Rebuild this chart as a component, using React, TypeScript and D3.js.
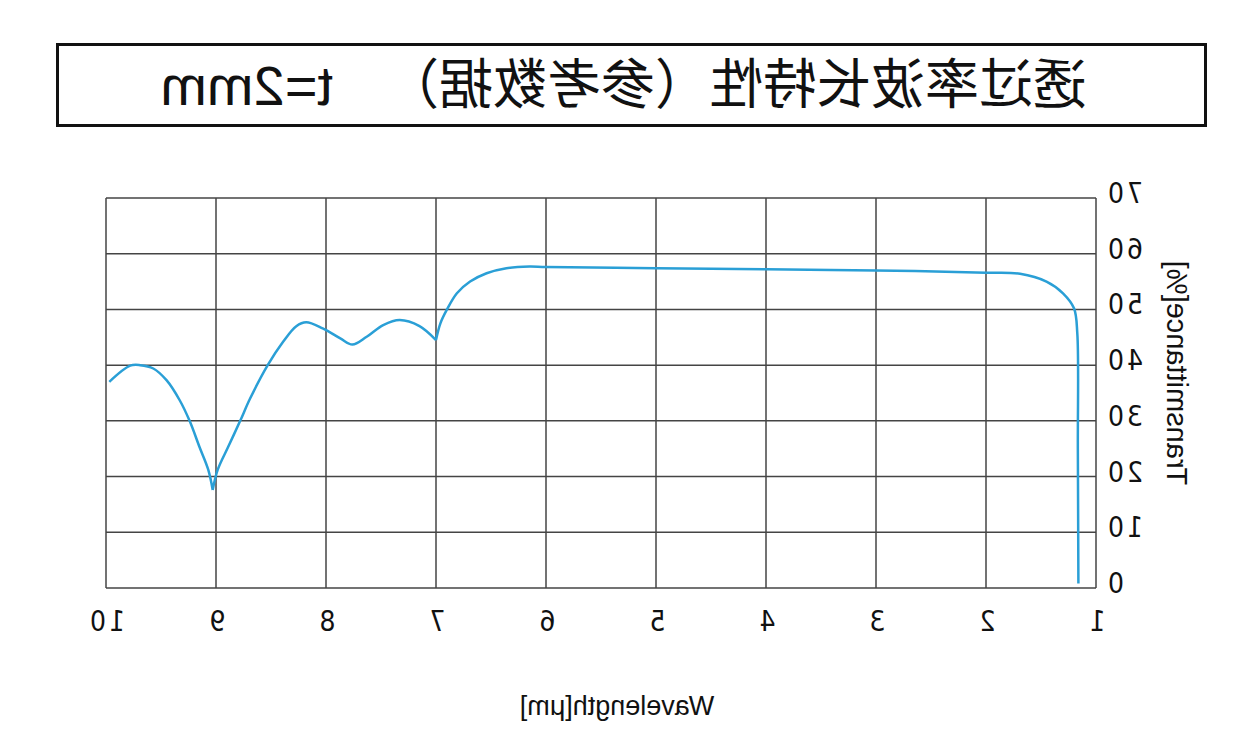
import React, { useEffect, useRef } from "react";
import * as d3 from "d3";

// wavelength [um] vs transmittance [%]
const wavelength = [
  1.16, 1.165, 1.17, 1.2, 1.3, 1.45, 1.69, 2.0, 3.0, 4.0, 5.0, 6.0, 6.15, 6.36,
  6.54, 6.69, 6.81, 6.9, 6.96, 7.0, 7.15, 7.33, 7.48, 7.63, 7.76, 7.87, 8.03,
  8.18, 8.27, 8.39, 8.53, 8.69, 8.78, 8.89, 8.985, 9.03, 9.07, 9.15, 9.24, 9.33,
  9.45, 9.57, 9.69, 9.78, 9.97,
];
const transmittance = [
  0.8, 25, 45.7, 50.2, 52.9, 55.0, 56.4, 56.6, 57.0, 57.2, 57.4, 57.6, 57.7,
  57.4, 56.5, 55.0, 52.9, 50.0, 47.5, 44.5, 47.0, 48.1, 47.2, 45.1, 43.7, 44.8,
  46.6, 47.7, 47.0, 44.2, 40.0, 34.0, 30.0, 25.3, 21.2, 17.6, 21.2, 25.3, 30.0,
  33.7, 37.3, 39.4, 40.0, 39.9, 37.0,
];
// sharp absorption dips where the curve has a corner
const cusps = [7.0, 9.03];
const xTicks = [1, 2, 3, 4, 5, 6, 7, 8, 9, 10];
const yTicks = [0, 10, 20, 30, 40, 50, 60, 70];

const titleText = "透过率波长特性（参考数据）";
const titleSuffix = "t=2mm";
const xTitle = "Wavelength[μm]";
const yTitle = "Transmittance[%]";

const W = 1258;
const H = 747;
const numFont = "'Liberation Sans Narrow', 'DejaVu Sans Condensed', 'Liberation Sans', sans-serif";
const latinFont = "'Liberation Sans', Arial, sans-serif";

const App = () => {
  const gRef = useRef(null);

  useEffect(() => {
    const g = d3.select(gRef.current);
    g.selectAll("*").remove();

    const x = d3.scaleLinear().domain([1, 10]).range([162, 1152]);
    const y = d3.scaleLinear().domain([0, 70]).range([588, 198]);

    // title box
    g.append("rect")
      .attr("x", 52.5)
      .attr("y", 44.5)
      .attr("width", 1148)
      .attr("height", 81)
      .attr("fill", "none")
      .attr("stroke", "#111")
      .attr("stroke-width", 3);

    g.append("text")
      .attr("x", 171)
      .attr("y", 104)
      .attr("font-family", "'Noto Sans CJK SC', sans-serif")
      .attr("font-size", 54)
      .attr("fill", "#111")
      .text(titleText);

    g.append("text")
      .attr("x", 925)
      .attr("y", 105)
      .attr("font-family", latinFont)
      .attr("font-size", 56)
      .attr("fill", "#111")
      .text(titleSuffix);

    // grid
    g.append("g")
      .selectAll("line")
      .data(xTicks)
      .join("line")
      .attr("x1", (d) => x(d))
      .attr("x2", (d) => x(d))
      .attr("y1", y(0))
      .attr("y2", y(70))
      .attr("stroke", "#444")
      .attr("stroke-width", 1.5);

    g.append("g")
      .selectAll("line")
      .data(yTicks)
      .join("line")
      .attr("x1", x(1))
      .attr("x2", x(10))
      .attr("y1", (d) => y(d))
      .attr("y2", (d) => y(d))
      .attr("stroke", "#444")
      .attr("stroke-width", 1.5);

    // tick labels
    g.append("g")
      .selectAll("text")
      .data(xTicks)
      .join("text")
      .attr("x", (d) => x(d))
      .attr("y", 631)
      .attr("text-anchor", "middle")
      .attr("font-family", numFont)
      .attr("font-size", 28)
      .attr("letter-spacing", 3)
      .attr("fill", "#111")
      .text((d) => d);

    g.append("g")
      .selectAll("text")
      .data(yTicks)
      .join("text")
      .attr("x", 153)
      .attr("y", (d) => y(d) - 3)
      .attr("text-anchor", "end")
      .attr("dominant-baseline", "middle")
      .attr("font-family", numFont)
      .attr("font-size", 28)
      .attr("letter-spacing", 3)
      .attr("fill", "#111")
      .text((d) => d);

    // axis titles
    g.append("text")
      .attr("x", 641)
      .attr("y", 715)
      .attr("text-anchor", "middle")
      .attr("font-family", latinFont)
      .attr("font-size", 27)
      .attr("fill", "#111")
      .text(xTitle);

    g.append("text")
      .attr("transform", "translate(91,373) rotate(-90)")
      .attr("text-anchor", "middle")
      .attr("font-family", latinFont)
      .attr("font-size", 29)
      .attr("fill", "#111")
      .text(yTitle);

    // curve, split at the cusps so the dips stay sharp
    const pts = wavelength.map((w, i) => [w, transmittance[i]]);
    const segments = [];
    let cur = [];
    pts.forEach((p) => {
      cur.push(p);
      if (cusps.includes(p[0])) {
        segments.push(cur);
        cur = [p];
      }
    });
    segments.push(cur);

    const line = d3
      .line()
      .x((d) => x(d[0]))
      .y((d) => y(d[1]))
      .curve(d3.curveCatmullRom.alpha(0.5));

    g.append("path")
      .attr("d", segments.map((s) => line(s)).join(""))
      .attr("fill", "none")
      .attr("stroke", "#2a9fd6")
      .attr("stroke-width", 2.5)
      .attr("stroke-linejoin", "miter");
  }, []);

  return (
    <svg
      width={W}
      height={H}
      style={{ position: "absolute", left: 0, top: 0, background: "#fff" }}
    >
      {/* the reference is mirrored left to right */}
      <g ref={gRef} transform={`translate(${W},0) scale(-1,1)`} />
    </svg>
  );
};

export default App;
